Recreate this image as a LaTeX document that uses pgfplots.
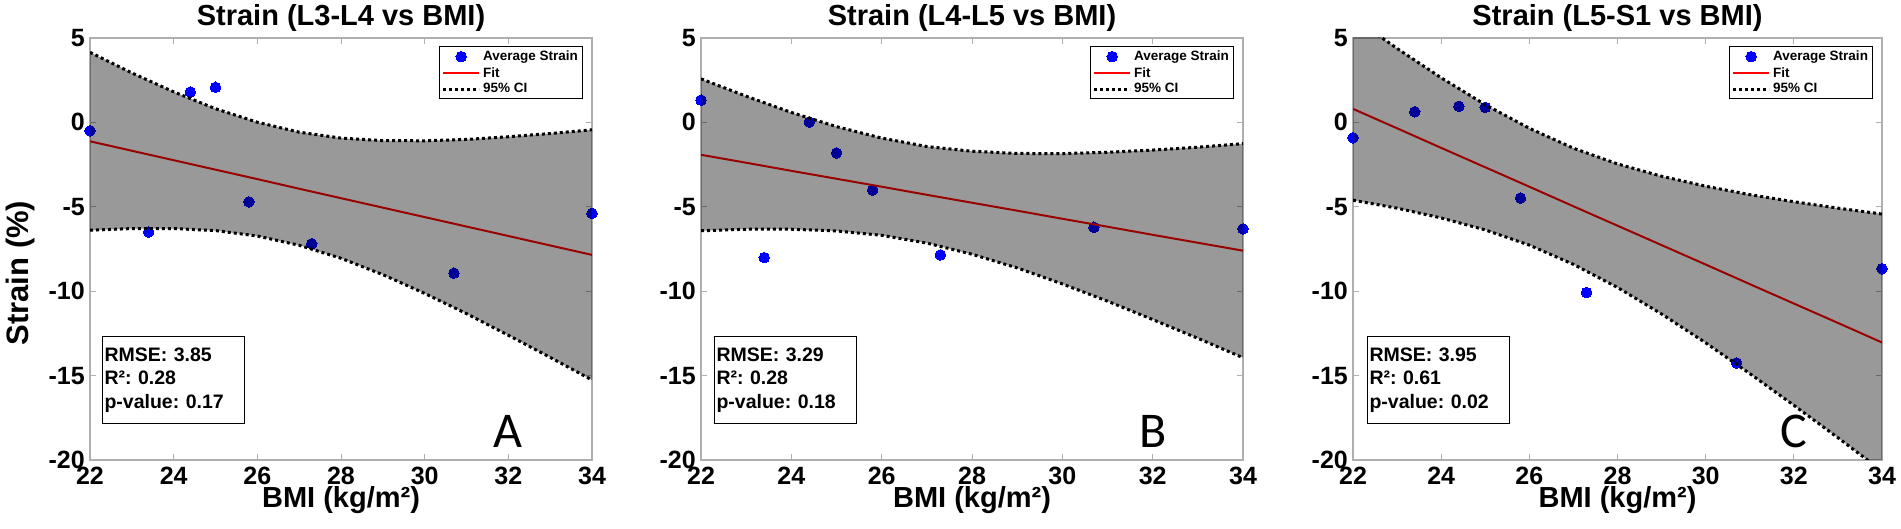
\documentclass[border=0pt]{standalone}
\usepackage{pgfplots}
\pgfplotsset{compat=1.18}
\usepackage{pgfplotstable}
\usepgfplotslibrary{fillbetween}
\usepackage{fontspec}
\setmainfont{Liberation Sans}
\newfontfamily\letterfont{Carlito}
\definecolor{framegray}{RGB}{175,175,175}
\definecolor{mblue}{RGB}{0,0,255}
\definecolor{fitred}{RGB}{255,0,0}
\tikzset{fill between/on layer=main}

\pgfplotstableread{
x yA yB yC
22.0 -0.50 1.32 -0.91
23.4 -6.49 -8.01 0.63
24.4 1.80 0.02 0.95
25.0 2.08 -1.81 0.89
25.8 -4.71 -4.01 -4.48
27.3 -7.19 -7.85 -10.08
30.7 -8.93 -6.21 -14.25
34.0 -5.39 -6.31 -8.67
}\pts

\pgfplotstableread{
x fit up lo
22 -1.12 4.15 -6.39
23 -1.68 2.93 -6.29
24 -2.24 1.81 -6.29
25 -2.80 0.81 -6.41
26 -3.36 0.01 -6.73
27 -3.93 -0.58 -7.28
28 -4.49 -0.93 -8.05
29 -5.05 -1.08 -9.02
30 -5.61 -1.09 -10.13
31 -6.17 -1.01 -11.33
32 -6.73 -0.85 -12.61
33 -7.29 -0.66 -13.92
34 -7.85 -0.44 -15.26
}\bandA

\pgfplotstableread{
x fit up lo
22 -1.92 2.58 -6.42
23 -2.39 1.55 -6.33
24 -2.87 0.59 -6.33
25 -3.34 -0.25 -6.43
26 -3.81 -0.93 -6.69
27 -4.29 -1.43 -7.15
28 -4.76 -1.71 -7.81
29 -5.23 -1.84 -8.62
30 -5.71 -1.85 -9.57
31 -6.18 -1.77 -10.59
32 -6.66 -1.64 -11.68
33 -7.13 -1.47 -12.79
34 -7.60 -1.26 -13.94
}\bandB

\pgfplotstableread{
x fit up lo
22 0.80 6.21 -4.61
23 -0.35 4.38 -5.08
24 -1.51 2.64 -5.66
25 -2.66 1.05 -6.37
26 -3.81 -0.35 -7.27
27 -4.97 -1.53 -8.41
28 -6.12 -2.46 -9.78
29 -7.27 -3.19 -11.35
30 -8.42 -3.78 -13.06
31 -9.58 -4.28 -14.88
32 -10.73 -4.70 -16.76
33 -11.88 -5.08 -18.68
34 -13.04 -5.43 -20.65
}\bandC

\pgfplotsset{
  panel/.style={
    scale only axis, height=422pt, anchor=south west,
    xmin=22, xmax=34, ymin=-20, ymax=5,
    xtick={22,24,26,28,30,32,34}, xticklabels={22,24,26,28,30,32,34},
    ytick={-20,-15,-10,-5,0,5}, yticklabels={-20,-15,-10,-5,0,5},
    axis line style={framegray, line width=1.5pt},
    tick style={framegray, line width=1pt},
    major tick length=6pt,
    tick align=inside,
    ticklabel style={font=\fontsize{25}{25}\selectfont\bfseries, inner sep=0pt},
    xticklabel style={yshift=-7pt},
    yticklabel style={xshift=-5pt},
    every axis title shift=0pt,
    title style={at={(axis description cs:0.5,1)}, font=\fontsize{29}{29}\selectfont\bfseries, anchor=base, yshift=12pt, inner sep=0pt},
    xlabel={BMI (kg/m²)},
    xlabel style={at={(axis description cs:0.5,0)}, anchor=base, yshift=-48pt, inner sep=0pt, font=\fontsize{29}{29}\selectfont\bfseries},
    clip mode=individual,
    legend style={at={(axis description cs:1,1)}, anchor=north east, xshift=-9pt, yshift=-8pt,
      draw=black, line width=1pt, font=\fontsize{13.5}{14}\selectfont\bfseries,
      inner xsep=2pt, inner ysep=2pt, row sep=0pt, nodes={inner sep=2.5pt}},
    legend cell align=left,
    legend image code/.code={\draw[mark repeat=2,mark phase=2,##1] plot coordinates {(0pt,0pt) (18pt,0pt) (36pt,0pt)};},
  },
  ptstyle/.style={only marks, mark=*, mark size=5.3pt, color=mblue, mark options={draw=mblue, fill=mblue, line width=0pt}},
  fitstyle/.style={color=fitred, line width=2pt, no marks},
  cistyle/.style={color=black, line width=3pt, dash pattern=on 3pt off 3pt, no marks},
  bandstyle/.style={fill=black, fill opacity=0.4, draw=none},
}
\tikzset{
  statbox/.style={draw=black, line width=1pt, anchor=south west, text width=138pt, align=left,
    inner xsep=2pt, inner ysep=11pt, font=\fontsize{19.5}{23.5}\selectfont\bfseries\frenchspacing},
  letter/.style={font=\letterfont\fontsize{50}{50}\selectfont, inner sep=0pt},
}

\begin{document}
\frenchspacing
\begin{tikzpicture}

% Panel A
\begin{axis}[panel, at={(90pt,69pt)}, width=502pt,
  title={Strain (L3-L4 vs BMI)},
  ylabel={Strain (\%)},
  ylabel style={at={([xshift=-70pt]axis description cs:0,0.443)}, anchor=center, inner sep=0pt, font=\fontsize{31}{31}\selectfont\bfseries}]
\addplot[ptstyle] table[x=x,y=yA]{\pts};
\addlegendentry{Average Strain}
\addplot[fitstyle] table[x=x,y=fit]{\bandA};
\addlegendentry{Fit}
\addplot[cistyle, name path=upA] table[x=x,y=up]{\bandA};
\addlegendentry{95\% CI}
\addplot[cistyle, name path=loA, forget plot] table[x=x,y=lo]{\bandA};
\addplot[bandstyle, forget plot] fill between[of=upA and loA];
\node[statbox] at ([xshift=12pt,yshift=36pt]axis description cs:0,0) {RMSE: 3.85\\R²: 0.28\\p-value: 0.17};
\node[letter] at (axis cs:32,-18.3) {A};
\end{axis}

% Panel B
\begin{axis}[panel, at={(701pt,69pt)}, width=542pt,
  title={Strain (L4-L5 vs BMI)}]
\addplot[ptstyle] table[x=x,y=yB]{\pts};
\addlegendentry{Average Strain}
\addplot[fitstyle] table[x=x,y=fit]{\bandB};
\addlegendentry{Fit}
\addplot[cistyle, name path=upB] table[x=x,y=up]{\bandB};
\addlegendentry{95\% CI}
\addplot[cistyle, name path=loB, forget plot] table[x=x,y=lo]{\bandB};
\addplot[bandstyle, forget plot] fill between[of=upB and loB];
\node[statbox] at ([xshift=13pt,yshift=36pt]axis description cs:0,0) {RMSE: 3.29\\R²: 0.28\\p-value: 0.18};
\node[letter] at (axis cs:32,-18.3) {B};
\end{axis}

% Panel C
\begin{axis}[panel, at={(1353pt,69pt)}, width=529pt,
  title={Strain (L5-S1 vs BMI)}]
\addplot[ptstyle] table[x=x,y=yC]{\pts};
\addlegendentry{Average Strain}
\addplot[fitstyle] table[x=x,y=fit]{\bandC};
\addlegendentry{Fit}
\addplot[cistyle, name path=upC] table[x=x,y=up]{\bandC};
\addlegendentry{95\% CI}
\addplot[cistyle, name path=loC, forget plot] table[x=x,y=lo]{\bandC};
\addplot[bandstyle, forget plot] fill between[of=upC and loC];
\node[statbox] at ([xshift=14pt,yshift=36pt]axis description cs:0,0) {RMSE: 3.95\\R²: 0.61\\p-value: 0.02};
\node[letter] at (axis cs:32,-18.3) {C};
\end{axis}

\pgfresetboundingbox
\useasboundingbox (0,0) rectangle (1901pt,529pt);
\end{tikzpicture}
\end{document}
